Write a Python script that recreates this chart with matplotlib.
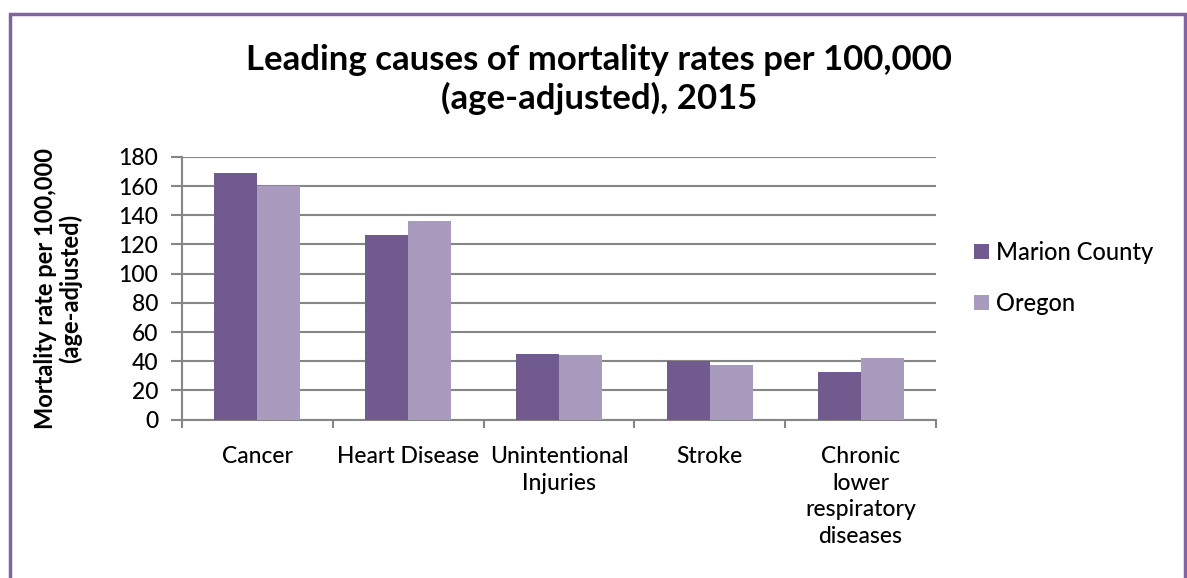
import matplotlib.pyplot as plt
import matplotlib.patches as patches
import numpy as np

plt.rcParams['font.family'] = ['Lato', 'DejaVu Sans']
plt.rcParams['font.weight'] = 'medium'

categories = ['Cancer', 'Heart Disease', 'Unintentional\nInjuries', 'Stroke',
              'Chronic\nlower\nrespiratory\ndiseases']
marion = [169.2, 126.7, 44.9, 40.1, 32.6]
oregon = [160.3, 135.9, 44.0, 37.2, 42.0]
series_names = ['Marion County', 'Oregon']
yticks = list(range(0, 181, 20))

c_marion = '#705A8E'
c_oregon = '#A99BBE'
grid_c = '#868686'

fig = plt.figure(figsize=(11.87, 5.78), dpi=100)
ax = fig.add_axes([0.1533, 0.2742, 0.6352, 0.4542])

x = np.arange(len(categories))
w = 0.285
b1 = ax.bar(x - w / 2, marion, w, color=c_marion, label=series_names[0], zorder=3)
b2 = ax.bar(x + w / 2, oregon, w, color=c_oregon, label=series_names[1], zorder=3)

ax.set_xlim(-0.5, len(categories) - 0.5)
ax.set_ylim(0, 180)
ax.set_yticks(yticks)
ax.tick_params(axis='y', labelsize=16.5, length=8, color=grid_c, width=1.5, pad=9)
ax.yaxis.grid(True, color=grid_c, linewidth=1.5, zorder=0)
ax.set_axisbelow(True)

# category labels centered, ticks on boundaries
ax.set_xticks(np.arange(-0.5, len(categories), 1.0))
ax.set_xticklabels([])
ax.tick_params(axis='x', length=6, color=grid_c, width=1.5)
ax.set_xticks(x, minor=True)
ax.set_xticklabels(categories, minor=True, fontsize=16.5, linespacing=1.33, va='top')
ax.tick_params(axis='x', which='minor', length=0, pad=19)

for s in ['top', 'right']:
    ax.spines[s].set_visible(False)
for s in ['left', 'bottom']:
    ax.spines[s].set_color(grid_c)
    ax.spines[s].set_linewidth(1.5)

ax.set_ylabel('Mortality rate per 100,000\n(age-adjusted)', fontsize=17,
              fontweight='bold', labelpad=26, linespacing=1.08)

fig.text(0.505, 0.862, 'Leading causes of mortality rates per 100,000\n(age-adjusted), 2015',
         ha='center', va='center', fontsize=25, fontweight='bold', linespacing=1.22)

leg = fig.legend(handles=[b1, b2], loc='center left', bbox_to_anchor=(0.803, 0.519),
                 frameon=False, fontsize=17, handlelength=0.6, handleheight=0.6,
                 labelspacing=1.2, handletextpad=0.3)

# purple outer frame
fig.patches.append(patches.Rectangle((10 / 1187, -0.05), 1175 / 1187, 1.05 - 14 / 578,
                                     transform=fig.transFigure, fill=False,
                                     edgecolor='#8064A2', linewidth=2.5))

fig.savefig('out.png', dpi=100)
